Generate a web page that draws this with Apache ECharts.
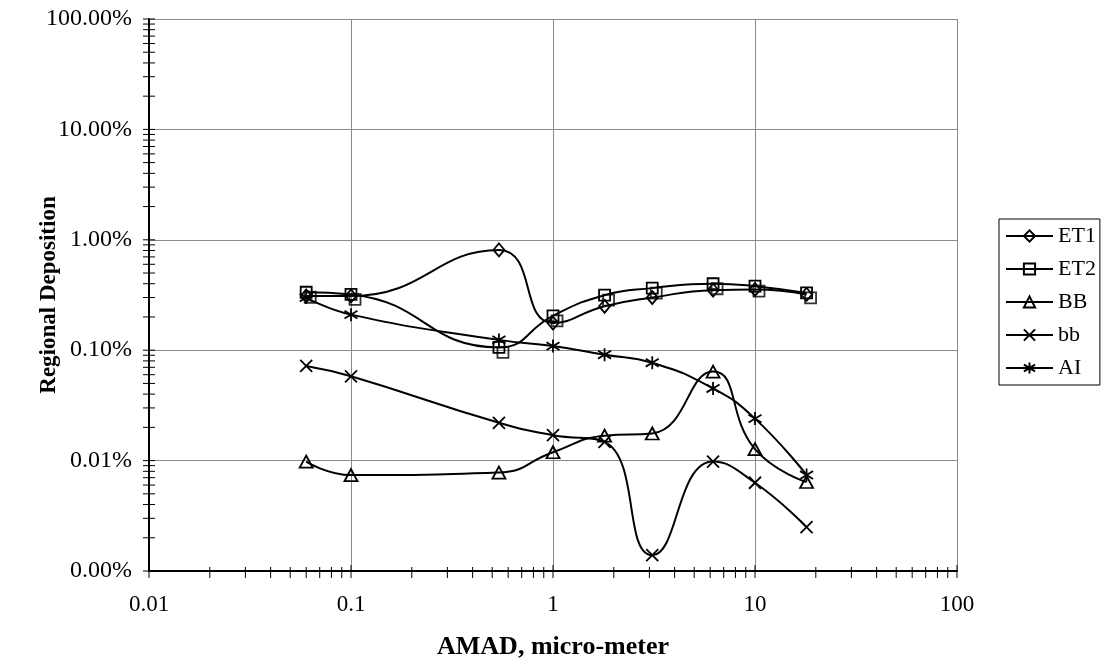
<!DOCTYPE html>
<html>
<head>
<meta charset="utf-8">
<script src="https://cdn.jsdelivr.net/npm/echarts@6/dist/echarts.min.js"></script>
<style>
html,body{margin:0;padding:0;background:#fff;}
#c{width:1103px;height:663px;}
</style>
</head>
<body>
<div id="c"></div>
<script>
// ---- data (AMAD in micro-meter, deposition in %) ----
const amad = [0.06, 0.1, 0.54, 1, 1.8, 3.1, 6.2, 10, 18];
const et1  = [0.31, 0.31, 0.81, 0.176, 0.25, 0.30, 0.35, 0.355, 0.32];
const et2  = [0.335, 0.32, 0.106, 0.205, 0.315, 0.365, 0.40, 0.38, 0.33];
const bbU  = [0.0098, 0.0074, 0.0078, 0.0119, 0.0168, 0.0176, 0.064, 0.0127, 0.0064];
const bbL  = [0.072, 0.058, 0.022, 0.017, 0.0148, 0.00139, 0.0098, 0.0063, 0.0025];
const ai   = [0.30, 0.21, 0.124, 0.109, 0.091, 0.077, 0.045, 0.024, 0.0074];
const seriesNames = ['ET1', 'ET2', 'BB', 'bb', 'AI'];
const xMin = 0.01, xMax = 100;
const yMin = 0.001, yMax = 100;
const xTitle = 'AMAD, micro-meter';
const yTitle = 'Regional Deposition';

// ---- axis tick values (decades and 2..9 subdivisions) ----
function logTicks(lo, hi) {
  const out = [];
  for (let e = Math.round(Math.log10(lo)); e < Math.round(Math.log10(hi)); e++) {
    for (let m = 1; m <= 9; m++) out.push({v: +(m * Math.pow(10, e)).toPrecision(6), major: m === 1});
  }
  out.push({v: hi, major: true});
  return out;
}
const xTicks = logTicks(xMin, xMax);
const yTicks = logTicks(yMin, yMax);

const pair = arr => amad.map((x, i) => [x, arr[i]]);
const FONT = '"Liberation Serif", "Times New Roman", serif';

const crossPath = 'path://M0,0 L10,10 M10,0 L0,10';
const starPath = 'path://M5,0 L5,10 M0,2 L10,8 M10,2 L0,8';

function lineSeries(name, arr, symbol, size, extra) {
  return Object.assign({
    name: name,
    type: 'line',
    data: pair(arr),
    smooth: 0.5,
    symbol: symbol,
    symbolSize: size,
    showAllSymbol: true,
    lineStyle: {color: '#000', width: 2},
    itemStyle: {color: 'rgba(255,255,255,0)', borderColor: '#000', borderWidth: 1.8},
    emphasis: {disabled: true},
    z: 3
  }, extra || {});
}

const chart = echarts.init(document.getElementById('c'), null, {renderer: 'canvas'});
chart.setOption({
  backgroundColor: '#fff',
  animation: false,
  grid: {left: 149, top: 19, width: 808, bottom: 92, containLabel: false, outerBoundsMode: 'none'},
  xAxis: {
    type: 'log', logBase: 10, min: xMin, max: xMax,
    name: xTitle, nameLocation: 'middle', nameGap: 63, nameMoveOverlap: false,
    nameTextStyle: {fontFamily: FONT, fontSize: 26, fontWeight: 'bold', color: '#000'},
    axisLine: {show: true, lineStyle: {color: '#000', width: 2}},
    axisTick: {show: false},
    axisLabel: {fontFamily: FONT, fontSize: 23, color: '#000', margin: 22,
      formatter: v => String(+(+v).toPrecision(6))},
    splitLine: {show: true, lineStyle: {color: '#8a8a8a', width: 1}},
    minorTick: {show: false}, minorSplitLine: {show: false}
  },
  yAxis: {
    type: 'log', logBase: 10, min: yMin, max: yMax,
    name: yTitle, nameLocation: 'middle', nameGap: 88, nameRotate: 90, nameMoveOverlap: false,
    nameTextStyle: {fontFamily: FONT, fontSize: 23, fontWeight: 'bold', color: '#000'},
    axisLine: {show: true, lineStyle: {color: '#000', width: 2}},
    axisTick: {show: false},
    axisLabel: {fontFamily: FONT, fontSize: 24, color: '#000', margin: 17,
      formatter: v => (+v).toFixed(2) + '%'},
    splitLine: {show: true, lineStyle: {color: '#8a8a8a', width: 1}}
  },
  legend: {
    orient: 'vertical', left: 999, top: 219,
    data: seriesNames,
    itemWidth: 47, itemHeight: 14, itemGap: 11,
    padding: [6, 4, 6, 6],
    borderColor: '#000', borderWidth: 1, borderRadius: 0,
    backgroundColor: '#fff',
    textStyle: {fontFamily: FONT, fontSize: 22, color: '#000', lineHeight: 22},
    selectedMode: false
  },
  series: [
    lineSeries('ET1', et1, 'diamond', [11, 13]),
    lineSeries('ET2', et2, 'rect', 11),
    {
      name: 'ET2 ', type: 'scatter', data: pair(et2), symbol: 'rect', symbolSize: 11,
      symbolOffset: [4, 5], silent: true, z: 3,
      itemStyle: {color: 'rgba(255,255,255,0)', borderColor: '#000', borderWidth: 1.8}
    },
    lineSeries('BB', bbU, 'triangle', [13, 12]),
    lineSeries('bb', bbL, crossPath, 12),
    lineSeries('AI', ai, starPath, 13),
    {
      name: 'xticks', type: 'custom', silent: true, z: 5,
      data: xTicks.map(t => [t.v, yMin, t.major ? 1 : 0]),
      renderItem: function (params, api) {
        const p = api.coord([api.value(0), api.value(1)]);
        const major = api.value(2) === 1;
        return {type: 'line', shape: {x1: p[0], y1: p[1] - (major ? 6 : 4), x2: p[0], y2: p[1] + 7},
          style: {stroke: '#000', lineWidth: 1}};
      }
    },
    {
      name: 'yticks', type: 'custom', silent: true, z: 5,
      data: yTicks.map(t => [xMin, t.v, t.major ? 1 : 0]),
      renderItem: function (params, api) {
        const p = api.coord([api.value(0), api.value(1)]);
        return {type: 'line', shape: {x1: p[0] - 6, y1: p[1], x2: p[0] + 6, y2: p[1]},
          style: {stroke: '#000', lineWidth: 1}};
      }
    }
  ]
});
</script>
</body>
</html>
